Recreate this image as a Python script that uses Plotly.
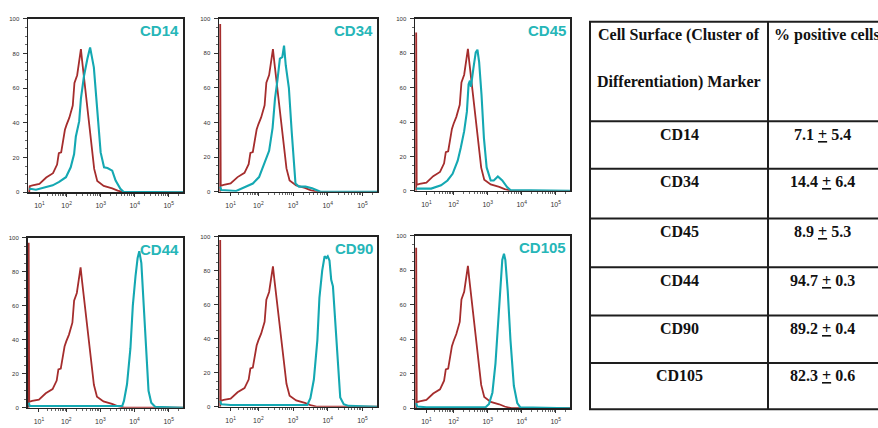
import math
import plotly.graph_objects as go

W, H = 878, 428

# ---------------- data ----------------
markers = ["CD14", "CD34", "CD45", "CD44", "CD90", "CD105"]
pct_mean = [7.1, 14.4, 8.9, 94.7, 89.2, 82.3]
pct_sd = [5.4, 6.4, 5.3, 0.3, 0.4, 0.6]

# x values are in logicle display decades (10^k shown at k)
iso_x = [0.915, 1.0, 1.2, 1.4, 1.6, 1.72, 1.77, 1.84, 1.90, 1.95, 2.0, 2.08, 2.18, 2.23,
         2.31, 2.37, 2.42, 2.46, 2.51, 2.61, 2.71, 2.81, 2.90, 3.09, 3.34, 3.50, 3.70, 5.42]
iso_y = [3.5, 4, 4.8, 8.5, 11, 16, 22.5, 23, 30, 36, 39, 43, 50, 63,
         67.5, 76, 82.5, 75, 66, 48.5, 28, 13.5, 6.5, 3.7, 2.3, 1, 0, 0]
iso_edge = [3, 97, 92, 97, 98, 93]

cd14_x = [0.9, 0.93, 1.10, 1.40, 1.59, 1.78, 1.98, 2.12, 2.22, 2.27, 2.37, 2.42, 2.51, 2.61,
          2.69, 2.80, 2.90, 3.0, 3.10, 3.20, 3.34, 3.44, 3.58, 3.67, 5.42]
cd14_y = [2, 2, 1.5, 3, 4, 6, 8.7, 14.4, 22, 32, 41, 54, 67, 77,
          83.5, 72, 46.6, 23, 14.4, 14, 12.5, 6.8, 2, 0.3, 0]

cd34_x = [0.9, 0.93, 1.36, 1.64, 1.84, 2.02, 2.17, 2.31, 2.41, 2.48, 2.55, 2.62, 2.69, 2.74,
          2.79, 2.88, 2.96, 3.03, 3.07, 3.17, 3.36, 3.55, 3.79, 5.42]
cd34_y = [3, 1, 0.5, 3, 4.8, 8.5, 16, 23.7, 37, 54, 64.5, 77, 77.8, 84.5,
          73, 60, 35, 14.2, 4.8, 3, 3, 2, 0, 0]

cd45_x = [0.9, 1.34, 1.63, 1.82, 1.97, 2.12, 2.21, 2.31, 2.39, 2.44, 2.48, 2.51, 2.58, 2.65,
          2.70, 2.75, 2.82, 2.89, 2.97, 3.09, 3.18, 3.30, 3.43, 3.57, 3.67, 5.42]
cd45_y = [1.3, 1.3, 3.2, 6, 9.9, 17.5, 25, 34.7, 46, 62, 64, 60.5, 71, 80.5,
          82, 74.8, 55.7, 30.8, 13.6, 6, 6, 8.3, 6, 2.2, 0.5, 0]

cd44_x = [0.9, 0.93, 1.10, 3.64, 3.69, 3.78, 3.88, 3.95, 4.03, 4.09, 4.14, 4.20, 4.27, 4.34,
          4.41, 4.49, 4.61, 5.42]
cd44_y = [3, 1, 1, 1, 4, 13.8, 35, 60, 77.6, 88, 92, 85, 60, 31,
          10, 3, 0.5, 0]

cd90_x = [0.9, 0.93, 1.20, 3.41, 3.50, 3.60, 3.70, 3.76, 3.84, 3.91, 3.96, 4.00, 4.05, 4.10,
          4.15, 4.22, 4.30, 4.36, 4.46, 4.60, 5.42]
cd90_y = [3.5, 1.5, 1, 1, 5, 16, 39, 64, 80, 88.5, 87.5, 88.5, 86, 74.6,
          70.8, 49.4, 24.3, 5.4, 1.5, 0.5, 0]

cd105_x = [0.9, 0.93, 1.20, 2.94, 3.04, 3.14, 3.23, 3.31, 3.38, 3.43, 3.48, 3.52, 3.59, 3.67,
           3.77, 3.87, 3.96, 5.42]
cd105_y = [3, 1, 0.6, 0.6, 2.5, 9, 26, 49, 74, 86, 89.5, 86, 68, 39.6,
           13, 3, 0.5, 0]

stain_x = [cd14_x, cd34_x, cd45_x, cd44_x, cd90_x, cd105_x]
stain_y = [cd14_y, cd34_y, cd45_y, cd44_y, cd90_y, cd105_y]

x_tick_pos = [1.2, 2, 3, 4, 5]
x_tick_text = ["10<sup>1</sup>", "10<sup>2</sup>", "10<sup>3</sup>", "10<sup>4</sup>", "10<sup>5</sup>"]
y_tick_pos = [0, 20, 40, 60, 80, 100]

# ---------------- styling ----------------
RED = "rgb(165,45,45)"
TEAL = "rgb(20,168,178)"
TITLE_TEAL = "rgb(38,182,184)"
SANS = "Liberation Sans, Arial, sans-serif"
SERIF = "Liberation Serif, Times New Roman, serif"

# panel boxes in pixels: left, right, top, bottom
panels = [(28, 183, 16, 192), (219, 377, 16, 191.5), (415, 570, 16, 190.5),
          (27.5, 183, 238, 410.5), (219, 377, 237, 409.5), (415, 570, 236, 411)]

minor_x = []
for m in range(2, 10):
    minor_x.append(1.2 + 0.8 * math.log10(m))
for k in (2, 3, 4):
    for m in range(2, 10):
        minor_x.append(k + math.log10(m))
minor_x += [5 + math.log10(2)]

fig = go.Figure()
layout = dict(
    width=W, height=H, margin=dict(l=0, r=0, t=0, b=0),
    paper_bgcolor="white", plot_bgcolor="white", showlegend=False,
    font=dict(family=SANS, color="#222"),
)
annotations = []
shapes = []

for i, (l, r, t, b) in enumerate(panels):
    n = "" if i == 0 else str(i + 1)
    xa, ya = "x" + n, "y" + n
    fig.add_trace(go.Scatter(
        x=[0.9, 0.9] + iso_x, y=[0, iso_edge[i]] + iso_y, mode="lines",
        line=dict(color=RED, width=1.8), xaxis=xa, yaxis=ya, hoverinfo="skip"))
    fig.add_trace(go.Scatter(
        x=stain_x[i], y=stain_y[i], mode="lines",
        line=dict(color=TEAL, width=2.1), xaxis=xa, yaxis=ya, hoverinfo="skip"))
    layout["xaxis" + n] = dict(
        domain=[l / W, r / W], anchor=ya, range=[0.865, 5.42],
        showgrid=False, zeroline=False, showline=True, linecolor="#222", linewidth=1.5,
        mirror=True, ticks="outside", ticklen=3, tickwidth=1, tickcolor="#333",
        tickvals=x_tick_pos, ticktext=x_tick_text, ticklabelstandoff=3,
        tickfont=dict(size=7, color="#333", family=SANS),
        minor=dict(tickvals=minor_x, ticks="outside", ticklen=2, tickcolor="#444", tickwidth=0.8),
        fixedrange=True,
    )
    layout["yaxis" + n] = dict(
        domain=[1 - b / H, 1 - t / H], anchor=xa, range=[0, 100],
        showgrid=False, zeroline=False, showline=True, linecolor="#222", linewidth=1.5,
        mirror=True, ticks="outside", ticklen=4, tickwidth=1, tickcolor="#333",
        tickvals=y_tick_pos, tickfont=dict(size=6, color="#333", family=SANS),
        ticklabelstandoff=2,
        minor=dict(dtick=5, ticks="outside", ticklen=2, tickcolor="#444", tickwidth=0.8),
        fixedrange=True,
    )
    annotations.append(dict(
        text="<b>%s</b>" % markers[i], xref=xa + " domain", yref=ya + " domain",
        x=0.985, y=0.995, xanchor="right", yanchor="top", showarrow=False,
        font=dict(size=15, color=TITLE_TEAL, family=SANS)))

# ---------------- table ----------------
def px(xp):
    return xp / W


def py(yp):
    return 1 - yp / H


row_lines = [19, 120, 168, 218.5, 268, 317, 365, 412]
tab_left, tab_mid, tab_right = 590, 768, 880
for yl in row_lines:
    shapes.append(dict(type="line", xref="paper", yref="paper", x0=px(tab_left - 1), x1=px(tab_right),
                       y0=py(yl), y1=py(yl), line=dict(color="#1e1e1e", width=2)))
for xl in (tab_left, tab_mid):
    shapes.append(dict(type="line", xref="paper", yref="paper", x0=px(xl), x1=px(xl),
                       y0=py(row_lines[0]), y1=py(row_lines[-1]), line=dict(color="#1e1e1e", width=2)))

tfont = dict(family=SERIF, size=16, color="#111")
col1_c = (tab_left + tab_mid) / 2
col2_c = 822
annotations.append(dict(text="<b>Cell Surface (Cluster of</b>", xref="paper", yref="paper",
                        x=px(col1_c), y=py(32), xanchor="center", yanchor="middle",
                        showarrow=False, font=tfont))
annotations.append(dict(text="<b>Differentiation) Marker</b>", xref="paper", yref="paper",
                        x=px(col1_c), y=py(80), xanchor="center", yanchor="middle",
                        showarrow=False, font=tfont))
annotations.append(dict(text="<b>% positive cells</b>", xref="paper", yref="paper",
                        x=px(772), y=py(32), xanchor="left", yanchor="middle",
                        showarrow=False, font=tfont))
for k, name in enumerate(markers):
    yc = row_lines[k + 1] + 13
    annotations.append(dict(text="<b>%s</b>" % name, xref="paper", yref="paper",
                            x=px(col1_c), y=py(yc), xanchor="center", yanchor="middle",
                            showarrow=False, font=tfont))
    annotations.append(dict(text="<b>%s <u>+</u> %s</b>" % (pct_mean[k], pct_sd[k]),
                            xref="paper", yref="paper",
                            x=px(col2_c), y=py(yc), xanchor="center", yanchor="middle",
                            showarrow=False, font=tfont))

layout["annotations"] = annotations
layout["shapes"] = shapes
fig.update_layout(**layout)
fig.write_html("out.html", config={"displayModeBar": False, "staticPlot": True},
               post_script="document.body.style.margin='0';document.body.style.overflow='hidden';")
